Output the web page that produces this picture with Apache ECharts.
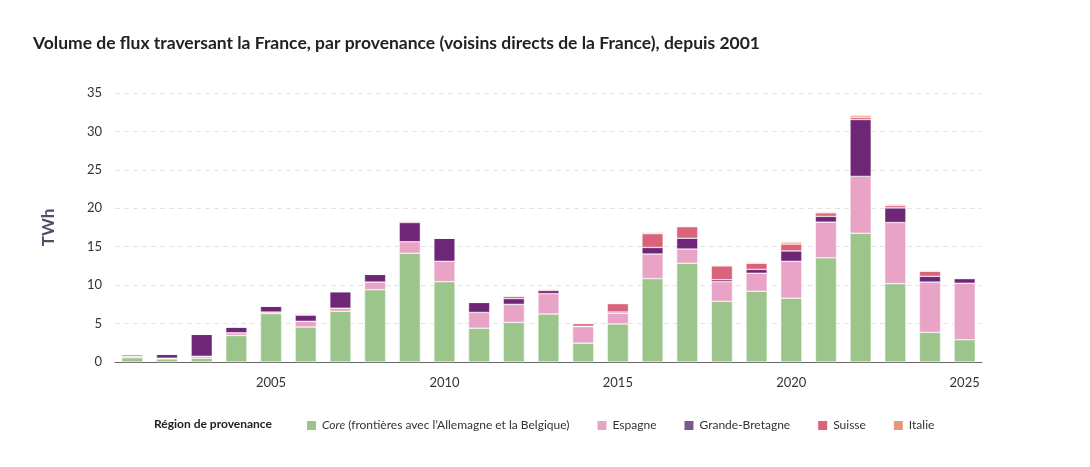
<!DOCTYPE html>
<html><head><meta charset="utf-8">
<script src="https://cdn.jsdelivr.net/npm/echarts@6/dist/echarts.min.js"></script>
<style>html,body{margin:0;padding:0;background:#fff}#c{width:1090px;height:467px}</style>
</head><body><div id="c"></div>
<script>
const years = ['2001','2002','2003','2004','2005','2006','2007','2008','2009','2010','2011','2012','2013','2014','2015','2016','2017','2018','2019','2020','2021','2022','2023','2024','2025'];
const core    = [0.55,0.4,0.5,3.45,6.3,4.55,6.6,9.4,14.15,10.45,4.4,5.15,6.25,2.45,4.95,10.85,12.85,7.9,9.2,8.3,13.55,16.75,10.2,3.85,2.9];
const espagne = [0.2,0.1,0.25,0.35,0.2,0.75,0.4,1.0,1.5,2.65,2.05,2.35,2.65,2.15,1.4,3.2,1.85,2.55,2.35,4.8,4.65,7.4,7.95,6.55,7.35];
const gb      = [0.2,0.5,2.85,0.75,0.75,0.8,2.15,1.0,2.5,3.0,1.3,0.75,0.4,0.05,0.15,0.85,1.4,0.25,0.5,1.35,0.75,7.4,1.9,0.75,0.6];
const suisse  = [0,0,0,0,0,0.1,0,0,0.15,0,0,0.3,0.15,0.35,1.1,1.8,1.5,1.8,0.8,0.9,0.45,0.3,0.3,0.65,0.05];
const italie  = [0,0,0,0,0,0.1,0,0,0.05,0,0,0.05,0.05,0.05,0.05,0.15,0.1,0.1,0.1,0.25,0.15,0.25,0.15,0.1,0.05];
const yTicks = [0,5,10,15,20,25,30,35];

const names = ['Core (frontières avec l\u2019Allemagne et la Belgique)','Espagne','Grande-Bretagne','Suisse','Italie'];
const colors = ['#9cc58b','#e8a3c6','#6e2676','#d9637a','#e8987a'];
const legendColors = ['#9cc58b','#e8a3c6','#7a5a8e','#d9637a','#e8987a'];
const datas = [core, espagne, gb, suisse, italie];
const FONT = 'Lato, "Open Sans", sans-serif';

const chart = echarts.init(document.getElementById('c'));
chart.setOption({
  animation:false,
  textStyle:{fontFamily:FONT},
  title:{text:'Volume de flux traversant la France, par provenance (voisins directs de la France), depuis 2001',
    left:28, top:29, textStyle:{fontSize:17.5, fontWeight:'bold', color:'#222', fontFamily:FONT}},
  graphic:[{type:'text', left:154, top:418, style:{text:'Région de provenance', font:'bold 12px '+FONT, fill:'#222'}}],
  legend:{
    left:300, top:414, itemWidth:11, itemHeight:11, itemGap:26, icon:'rect',
    textStyle:{fontSize:12, color:'#333', fontFamily:FONT, rich:{i:{fontStyle:'italic', fontSize:12, color:'#333', fontFamily:FONT}}},
    formatter: n => n.startsWith('Core') ? '{i|Core} (frontières avec l\u2019Allemagne et la Belgique)' : n,
    data: names.map((n,i)=>({name:n, itemStyle:{color:legendColors[i]}}))
  },
  grid:{left:115, right:108, top:93, bottom:105},
  xAxis:{type:'category', data:years,
    axisLine:{lineStyle:{color:'#666'}}, axisTick:{show:false},
    axisLabel:{interval:(i)=> (i+1)%5===0, color:'#333', fontSize:13, margin:14}},
  yAxis:{type:'value', min:0, max:35, interval:5,
    name:'TWh', nameLocation:'middle', nameGap:58, nameRotate:90,
    nameTextStyle:{fontSize:17, fontWeight:'bold', color:'#4a5363', fontFamily:FONT},
    axisLabel:{color:'#333', fontSize:13, margin:13, formatter:v=> yTicks.includes(v)? String(v):''},
    splitLine:{lineStyle:{color:'#e3e3e3', type:[5,4]}}},
  series: names.map((n,i)=>({
    name:n, type:'bar', stack:'t', barWidth:'61%', data:datas[i],
    itemStyle:{color:colors[i], borderColor:'#fff', borderWidth:0.5}
  }))
});
</script></body></html>
